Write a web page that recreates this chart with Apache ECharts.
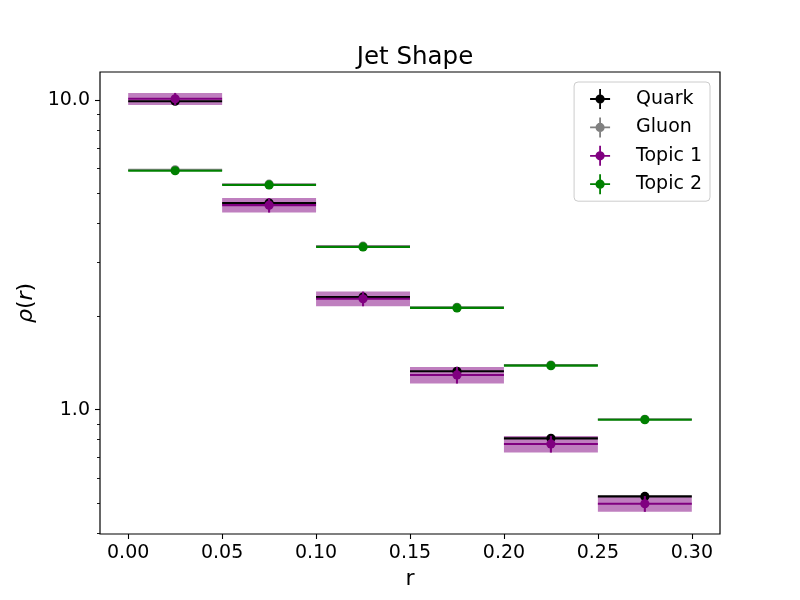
<!DOCTYPE html>
<html>
<head>
<meta charset="utf-8">
<script src="https://cdn.jsdelivr.net/npm/echarts@6/dist/echarts.min.js"></script>
</head>
<body style="margin:0;">
<div id="main" style="width:800px;height:600px;"></div>
<script type="text/javascript">
    // bin centres and half width (r)
    var rCenters = [0.025, 0.075, 0.125, 0.175, 0.225, 0.275];
    var rHalf = [0.025, 0.025, 0.025, 0.025, 0.025, 0.025];

    // rho(r) per sample, with y errors
    var quark = [9.89, 4.64, 2.31, 1.33, 0.808, 0.525];
    var quarkErr = [0.05, 0.02, 0.01, 0.006, 0.004, 0.003];
    var gluon = [5.94, 5.34, 3.37, 2.14, 1.393, 0.931];
    var gluonErr = [0.03, 0.02, 0.01, 0.008, 0.005, 0.004];
    var topic1 = [10.07, 4.57, 2.28, 1.294, 0.775, 0.497];
    var topic1Err = [0.45, 0.245, 0.124, 0.08, 0.048, 0.029];
    var topic2 = [5.90, 5.31, 3.35, 2.13, 1.387, 0.928];
    var topic2Err = [0.06, 0.05, 0.03, 0.02, 0.012, 0.008];

    // ticks
    var xTicks = [0, 0.05, 0.10, 0.15, 0.20, 0.25, 0.30];
    var yMajor = [1, 10];
    var yMinor = [0.4, 0.5, 0.6, 0.7, 0.8, 0.9, 2, 3, 4, 5, 6, 7, 8, 9];

    var font = 'DejaVu Sans';
    var legendIcon = 'path://M9.1,0H10.9V20H9.1Z M0,9.1H20V10.9H0Z M14.6,10A4.6,4.6,0,1,1,5.4,10A4.6,4.6,0,1,1,14.6,10Z';

    function rows(vals, errs) {
        var out = [];
        for (var i = 0; i < rCenters.length; i++) {
            out.push([rCenters[i], vals[i], errs[i], rHalf[i]]);
        }
        return out;
    }

    // horizontal bin bar + vertical error bar + marker
    function errRender(color) {
        return function (params, api) {
            var x = api.value(0), y = api.value(1), e = api.value(2), h = api.value(3);
            var l = api.coord([x - h, y]);
            var r = api.coord([x + h, y]);
            var top = api.coord([x, y + e]);
            var bot = api.coord([x, y - e]);
            var c = api.coord([x, y]);
            var st = {stroke: color, lineWidth: 2.1};
            return {
                type: 'group',
                children: [
                    {type: 'line', shape: {x1: l[0], y1: l[1], x2: r[0], y2: r[1]}, style: st},
                    {type: 'line', shape: {x1: top[0], y1: top[1], x2: bot[0], y2: bot[1]}, style: st},
                    {type: 'circle', shape: {cx: c[0], cy: c[1], r: 4.6}, style: {fill: color}}
                ]
            };
        };
    }

    // shaded band for topic 1
    function bandRender(params, api) {
        var x = api.value(0), y = api.value(1), e = api.value(2), h = api.value(3);
        var p1 = api.coord([x - h, y + e]);
        var p2 = api.coord([x + h, y - e]);
        return {
            type: 'rect',
            shape: {x: p1[0], y: p1[1], width: p2[0] - p1[0], height: p2[1] - p1[1]},
            style: {fill: 'rgba(128,0,128,0.5)'}
        };
    }

    // log y axis shared settings
    function logAxis(extra) {
        var a = {
            type: 'log',
            min: 0.397,
            max: 12.29,
            position: 'left',
            splitLine: {show: false},
            axisLine: {show: false},
            axisTick: {show: false},
            axisLabel: {show: false}
        };
        for (var k in extra) a[k] = extra[k];
        return a;
    }

    var myChart = echarts.init(document.getElementById('main'), null, {renderer: 'canvas'});
    var option = {
        backgroundColor: '#ffffff',
        animation: false,
        title: {
            text: 'Jet Shape',
            left: 410,
            top: 40,
            textAlign: 'center',
            textStyle: {fontFamily: font, fontSize: 24.5, fontWeight: 'normal', color: '#000'}
        },
        legend: {
            orient: 'vertical',
            right: 90,
            top: 82,
            padding: [7, 8, 7, 16],
            itemGap: 8.4,
            itemWidth: 20,
            itemHeight: 20,
            backgroundColor: 'rgba(255,255,255,0.8)',
            borderColor: '#cccccc',
            borderWidth: 1,
            borderRadius: 4,
            textStyle: {fontFamily: font, fontSize: 19, color: '#000', padding: [0, 0, 0, 21]},
            data: [
                {name: 'Quark', icon: legendIcon},
                {name: 'Gluon', icon: legendIcon},
                {name: 'Topic 1', icon: legendIcon},
                {name: 'Topic 2', icon: legendIcon}
            ]
        },
        grid: {
            left: 100, right: 80, top: 72, bottom: 66,
            show: true, borderColor: '#000', borderWidth: 1.2, backgroundColor: 'transparent'
        },
        xAxis: {
            type: 'value',
            min: -0.015,
            max: 0.315,
            name: 'r',
            nameLocation: 'middle',
            nameGap: 34,
            nameTextStyle: {fontFamily: font, fontSize: 22, color: '#000'},
            splitLine: {show: false},
            axisLine: {show: false},
            axisTick: {show: true, length: 5, customValues: xTicks, lineStyle: {color: '#000', width: 1.1}},
            axisLabel: {
                customValues: xTicks, margin: 10,
                fontFamily: font, fontSize: 19, color: '#000',
                formatter: function (v) { return v.toFixed(2); }
            }
        },
        yAxis: [
            // labels + axis name
            logAxis({
                name: '{i|ρ}({i|r})',
                nameLocation: 'middle',
                nameGap: 62,
                nameTextStyle: {fontFamily: font, fontSize: 22, color: '#000', rich: {i: {fontStyle: 'italic', fontFamily: font, fontSize: 22}}},
                axisLabel: {
                    show: true, customValues: yMajor, margin: 10,
                    fontFamily: font, fontSize: 19, color: '#000',
                    formatter: function (v) { return Number(v).toFixed(1); }
                }
            }),
            // major ticks
            logAxis({
                axisTick: {show: true, length: 5, customValues: [1.000001, 10], lineStyle: {color: '#000', width: 1.1}}
            }),
            // minor ticks
            logAxis({
                axisTick: {show: true, length: 3, customValues: yMinor, lineStyle: {color: '#000', width: 0.9}}
            })
        ],
        series: [
            {name: 'Topic 1 band', type: 'custom', renderItem: bandRender, data: rows(topic1, topic1Err), clip: false, z: 1},
            {name: 'Quark', type: 'custom', renderItem: errRender('#000000'), itemStyle: {color: '#000000'}, data: rows(quark, quarkErr), z: 2},
            {name: 'Gluon', type: 'custom', renderItem: errRender('#808080'), itemStyle: {color: '#808080'}, data: rows(gluon, gluonErr), z: 2},
            {name: 'Topic 1', type: 'custom', renderItem: errRender('#800080'), itemStyle: {color: '#800080'}, data: rows(topic1, topic1Err), z: 2},
            {name: 'Topic 2', type: 'custom', renderItem: errRender('#008000'), itemStyle: {color: '#008000'}, data: rows(topic2, topic2Err), z: 2}
        ]
    };
    myChart.setOption(option);
</script>
</body>
</html>
